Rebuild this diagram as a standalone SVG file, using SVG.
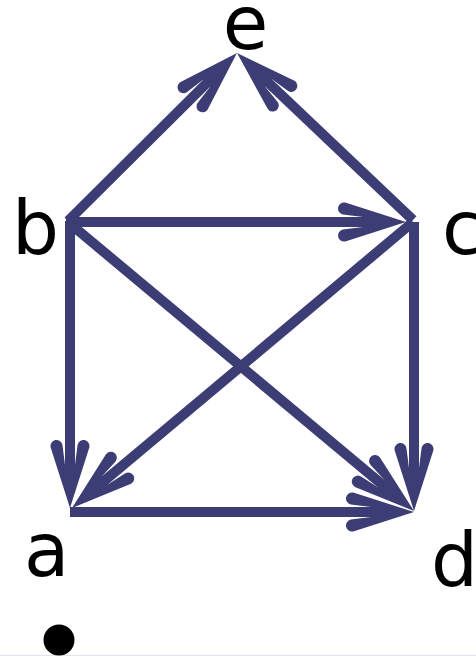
<svg xmlns="http://www.w3.org/2000/svg" width="476" height="656" viewBox="0 0 476 656">
<style>
.edge{stroke:#3d3d75;stroke-width:10;fill:none;stroke-linecap:butt}
.lbl{font-family:"DejaVu Sans",sans-serif;font-size:74px;fill:#000}
</style>
<defs>
<marker id="ah" markerUnits="userSpaceOnUse" viewBox="-40 -25 75 50" refX="0" refY="0" markerWidth="75" markerHeight="50" orient="auto" overflow="visible">
<path d="M30,0 L-30.8,-19.4 A6,6 0 0 0 -33.2,-7.6 L-13,-5 L-13,5 L-33.2,7.6 A6,6 0 0 0 -30.8,19.4 Z" fill="#3d3d75"/>
</marker>
</defs>
<rect x="0" y="0" width="476" height="656" fill="#fff"/>
<line x1="0" y1="655.5" x2="476" y2="655.5" stroke="#e4e4ee" stroke-width="1"/>
<g id="edges">
<line class="edge" x1="68" y1="221" x2="215.7" y2="74.2" marker-end="url(#ah)"/>
<line class="edge" x1="413" y1="220" x2="258.8" y2="73.7" marker-end="url(#ah)"/>
<line class="edge" x1="66" y1="222" x2="376" y2="222" marker-end="url(#ah)"/>
<line class="edge" x1="70" y1="221" x2="70" y2="478" marker-end="url(#ah)"/>
<line class="edge" x1="413" y1="222" x2="95" y2="488.7" marker-end="url(#ah)"/>
<line class="edge" x1="68" y1="222" x2="391" y2="491.8" marker-end="url(#ah)"/>
<line class="edge" x1="414" y1="222" x2="414" y2="481" marker-end="url(#ah)"/>
<line class="edge" x1="70" y1="512" x2="384" y2="512" marker-end="url(#ah)"/>
</g>
<g id="node-e"><text class="lbl" x="245.5" y="49" text-anchor="middle">e</text></g>
<g id="node-b"><text class="lbl" x="12" y="254">b</text></g>
<g id="node-c"><text class="lbl" x="442" y="254">c</text></g>
<g id="node-a"><text class="lbl" x="24" y="576">a</text></g>
<g id="node-d"><text class="lbl" x="431" y="586">d</text></g>
<g id="node-dot"><circle cx="59" cy="640" r="15.5" fill="#000"/></g>
</svg>
